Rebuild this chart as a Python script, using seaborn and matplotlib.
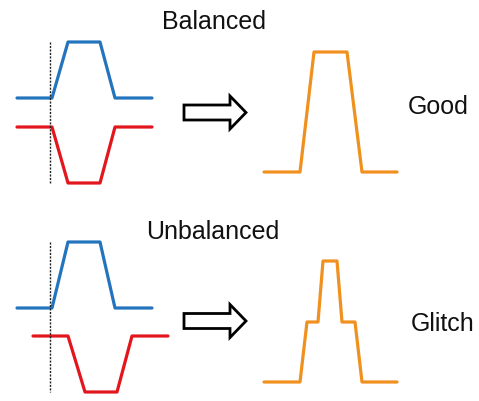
import matplotlib
matplotlib.use("Agg")

import matplotlib.pyplot as plt
import pandas as pd
import seaborn as sns

# waveform traces (canvas units, y grows downward)
bal_in_x = [17, 52, 68, 100, 115, 152]
bal_blue_y = [99, 99, 43, 43, 99, 99]
bal_red_y = [128, 128, 184, 184, 128, 128]
bal_out_x = [264, 300, 314, 347, 362, 397]
bal_out_y = [173, 173, 53, 53, 173, 173]

unb_blue_x = [17, 52, 68, 100, 115, 152]
unb_blue_y = [309, 309, 243, 243, 309, 309]
unb_red_x = [33, 68, 85, 117, 132, 168]
unb_red_y = [337, 337, 393, 393, 337, 337]
unb_out_x = [264, 300, 307, 318, 323, 337, 342, 355, 362, 397]
unb_out_y = [383, 383, 323, 323, 262, 262, 323, 323, 383, 383]

# reference markers (dotted vertical at the switching instant)
marker_x = 50
marker_spans = [(43, 185), (243, 393)]

titles = ["Balanced", "Unbalanced"]
results = ["Good", "Glitch"]

BLUE = "#2474bd"
RED = "#e3161d"
ORANGE = "#f0901f"

sns.set_theme(style="white")
plt.rcParams["font.family"] = ["Liberation Sans", "DejaVu Sans"]

fig = plt.figure(figsize=(4.79, 4.02), dpi=100)
ax = fig.add_axes([0, 0, 1, 1])

traces = [
    (bal_in_x, bal_blue_y, BLUE),
    (bal_in_x, bal_red_y, RED),
    (bal_out_x, bal_out_y, ORANGE),
    (unb_blue_x, unb_blue_y, BLUE),
    (unb_red_x, unb_red_y, RED),
    (unb_out_x, unb_out_y, ORANGE),
]
for xs, ys, col in traces:
    df = pd.DataFrame({"x": xs, "y": ys})
    sns.lineplot(data=df, x="x", y="y", sort=False, estimator=None,
                 color=col, linewidth=2.3, ax=ax)

for y0, y1 in marker_spans:
    ax.plot([marker_x, marker_x], [y0, y1], color="#222222",
            linewidth=1.0, linestyle=(0, (1.5, 1.0)))

# hollow arrows
for yc in [113.5, 322]:
    ax.arrow(184, yc, 62, 0, width=15, head_width=33, head_length=16,
             length_includes_head=True, facecolor="white",
             edgecolor="black", linewidth=2, joinstyle="miter")

ax.text(214, 22, titles[0], ha="center", va="center", fontsize=18, color="#111111")
ax.text(213, 232, titles[1], ha="center", va="center", fontsize=18, color="#111111")
ax.text(438, 107, results[0], ha="center", va="center", fontsize=18, color="#111111")
ax.text(443, 324, results[1], ha="center", va="center", fontsize=18, color="#111111")

ax.set_xlim(0, 479)
ax.set_ylim(402, 0)
ax.set_axis_off()

fig.savefig("out.png", dpi=100, facecolor="white")
plt.close(fig)
